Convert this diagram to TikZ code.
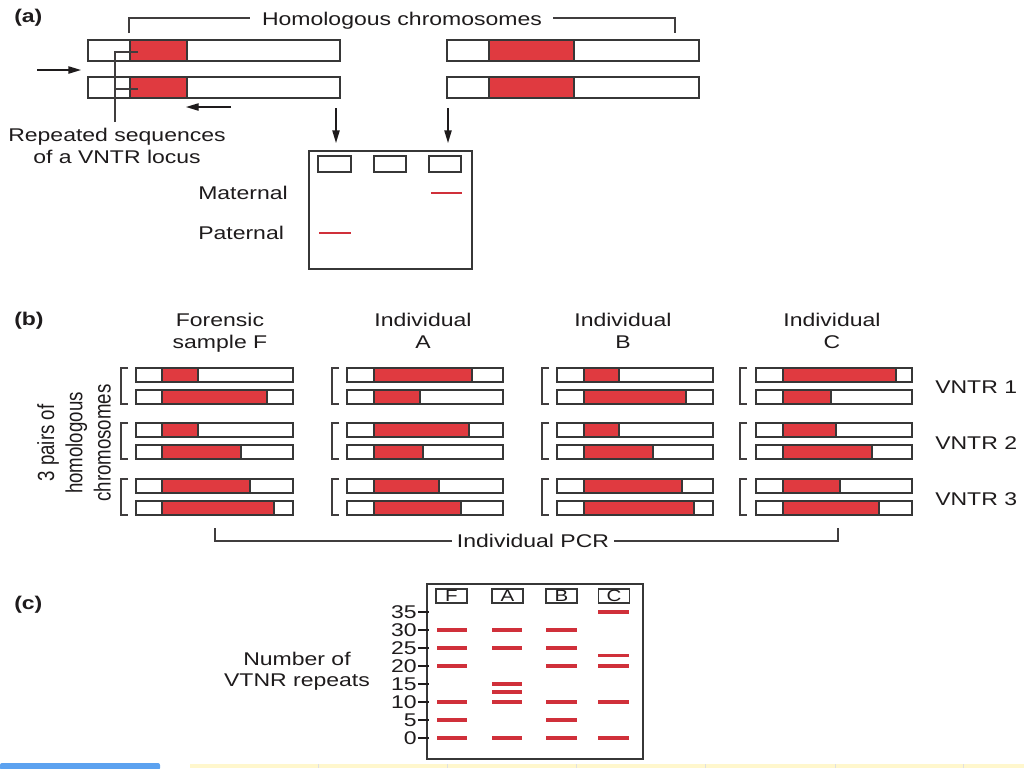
\documentclass[tikz,border=0pt]{standalone}
\usepackage{fontspec}
\setmainfont{Liberation Sans}[FakeStretch=1.25]
\newfontfamily\rotfont{Liberation Sans}[FakeStretch=0.8]
\usetikzlibrary{arrows.meta}
\definecolor{vred}{RGB}{224,58,64}
\definecolor{bandred}{RGB}{208,48,58}
\definecolor{ink}{RGB}{30,27,28}
\definecolor{bargray}{RGB}{55,55,55}
\definecolor{stripblue}{RGB}{92,162,240}
\definecolor{stripyellow}{RGB}{255,247,205}
\tikzset{
  barline/.style={draw=bargray, line width=1.25pt},
  brk/.style={draw=ink!85, line width=0.9pt},
  lbl/.style={font=\fontsize{13.8}{16.5}\selectfont, text=ink, inner sep=0pt},
  head/.style={font=\fontsize{13.8}{16.5}\selectfont\bfseries, text=ink, inner sep=0pt},
  arr/.style={draw=ink, line width=1pt, -{Triangle[length=9.5pt,width=5.5pt]}},
  gelbox/.style={draw=bargray, line width=1.2pt},
  wellbox/.style={draw=bargray, line width=1.1pt, inner sep=0pt, minimum width=23.25pt, minimum height=10.5pt,
     font=\fontsize{12.3}{13}\selectfont, text=ink},
  banda/.style={draw=bandred, line width=1.7pt},
  bandc/.style={draw=bandred, line width=2.4pt},
  tickline/.style={draw=ink, line width=0.9pt},
}
% x1 x2 ytop height redstart redend
\newcommand\chrbar[6]{%
  \fill[white] (#1,#3) rectangle (#2,#3+#4);
  \fill[vred] (#5,#3) rectangle (#6,#3+#4);
  \draw[barline] (#1,#3) rectangle (#2,#3+#4);
  \draw[barline] (#5,#3) -- (#5,#3+#4) (#6,#3) -- (#6,#3+#4);
}
\begin{document}
\begin{tikzpicture}[x=0.75pt,y=-0.75pt]
\useasboundingbox (0,0) rectangle (1024,768);
\fill[white] (0,0) rectangle (1024,768);

% ---------------- (a) ----------------
\node[head, anchor=base west] (la) at (14,22) {(a)};
\node[lbl, anchor=base] (hom) at (402,25) {Homologous chromosomes};
\draw[brk] (129,33) -- (129,18) -- (250,18);
\draw[brk] (553,18) -- (675,18) -- (675,33);

\chrbar{88}{340}{40}{21}{130}{187}
\chrbar{88}{340}{77}{21}{130}{187}
\chrbar{447}{699}{40}{21}{489}{574}
\chrbar{447}{699}{77}{21}{489}{574}

\coordinate (fa1) at (37,70);  \coordinate (fa2) at (81,70);
\draw[arr] (fa1) -- (fa2);
\coordinate (ra1) at (231,107); \coordinate (ra2) at (186,107);
\draw[arr] (ra1) -- (ra2);

\draw[brk] (115,122) -- (115,52) -- (138,52);
\draw[brk] (115,89) -- (138,89);
\node[lbl, anchor=base] (rep1) at (117,141) {Repeated sequences};
\node[lbl, anchor=base] (rep2) at (117,163) {of a VNTR locus};

% gel (a)
\draw[gelbox] (309,151) rectangle (472,269);
\node[wellbox, minimum width=24.75pt, minimum height=12pt] (w1) at (334.5,164) {};
\node[wellbox, minimum width=24pt, minimum height=12pt] (w2) at (390,164) {};
\node[wellbox, minimum width=24pt, minimum height=12pt] (w3) at (445,164) {};
\coordinate (da1) at (336,108); \coordinate (da2) at (448,108);
\draw[arr] (da1) -- (336,143);
\draw[arr] (da2) -- (448,143);
\draw[banda] (431,193) -- (462,193);
\draw[banda] (319,233) -- (351,233);
\node[lbl, anchor=base west] (mat) at (198,199) {Maternal};
\node[lbl, anchor=base west] (pat) at (198,239) {Paternal};

% ---------------- (b) ----------------
\node[head, anchor=base west] (lb) at (14,325) {(b)};
\node[lbl, anchor=base] at (220,326) {Forensic};
\node[lbl, anchor=base] at (220,348) {sample F};
\node[lbl, anchor=base] at (423,326) {Individual};
\node[lbl, anchor=base] at (423,348) {A};
\node[lbl, anchor=base] at (623,326) {Individual};
\node[lbl, anchor=base] at (623,348) {B};
\node[lbl, anchor=base] at (832,326) {Individual};
\node[lbl, anchor=base] at (832,348) {C};

\foreach \yt/\re in {368/198,390/267,423/198,445/241,479/250,501/274}
  {\chrbar{136}{293}{\yt}{14}{162}{\re}}
\foreach \yt/\re in {368/472,390/420,423/469,445/423,479/439,501/461}
  {\chrbar{347}{503}{\yt}{14}{374}{\re}}
\foreach \yt/\re in {368/619,390/686,423/619,445/653,479/682,501/694}
  {\chrbar{557}{713}{\yt}{14}{584}{\re}}
\foreach \yt/\re in {368/896,390/831,423/836,445/872,479/840,501/879}
  {\chrbar{756}{912}{\yt}{14}{783}{\re}}

\foreach \bx in {121,332,542,740}
  \foreach \yt in {368,423,479}
    \draw[brk] (\bx+7,\yt) -- (\bx,\yt) -- (\bx,\yt+36) -- (\bx+7,\yt+36);

\node[lbl, anchor=base west] at (935,393) {VNTR 1};
\node[lbl, anchor=base west] at (935,449) {VNTR 2};
\node[lbl, anchor=base west] at (935,505) {VNTR 3};

\node[font=\rotfont\fontsize{17.5}{21.2}\selectfont, text=ink, inner sep=0pt, align=center, rotate=90]
  (pairs) at (74,443) {3 pairs of\\homologous\\chromosomes};

\draw[brk] (215,528) -- (215,541) -- (452,541);
\node[lbl, anchor=base] (pcr) at (533,547) {Individual PCR};
\draw[brk] (614,541) -- (838,541) -- (838,528);

% ---------------- (c) ----------------
\node[head, anchor=base west] (lc) at (14,609) {(c)};
\draw[gelbox] (427,584) rectangle (643,759);
\node[wellbox] (wF) at (451.5,596) {F};
\node[wellbox] (wA) at (507.5,596) {A};
\node[wellbox] (wB) at (561.5,596) {B};
\node[wellbox] (wC) at (614,596) {C};

\foreach \v in {0,5,...,35} {
  \draw[tickline] (418,{738-3.6*\v}) -- (429,{738-3.6*\v});
  \node[lbl, anchor=base east] at (417,{738-3.6*\v+6.5}) {\v};
}
\foreach \v in {30,25,20,10,5,0}
  \draw[bandc] (437,{738-3.6*\v}) -- (467,{738-3.6*\v});
\foreach \v in {30,25,15,12.8,10,0}
  \draw[bandc] (492,{738-3.6*\v}) -- (522,{738-3.6*\v});
\foreach \v in {30,25,20,10,5,0}
  \draw[bandc] (546,{738-3.6*\v}) -- (577,{738-3.6*\v});
\foreach \v in {35,23,20,10,0}
  \draw[bandc] (598,{738-3.6*\v}) -- (629,{738-3.6*\v});

\node[lbl, anchor=base] at (297,665) {Number of};
\node[lbl, anchor=base] at (297,686) {VTNR repeats};

% bottom strip
\fill[stripyellow] (190,764) rectangle (1024,768);
\foreach \sx in {318,447,576,705,835,963}
  \draw[black!12, line width=0.5pt] (\sx,764) -- (\sx,768);
\fill[stripblue, rounded corners=1.5pt] (0,763) rectangle (160,770);
\end{tikzpicture}
\end{document}
